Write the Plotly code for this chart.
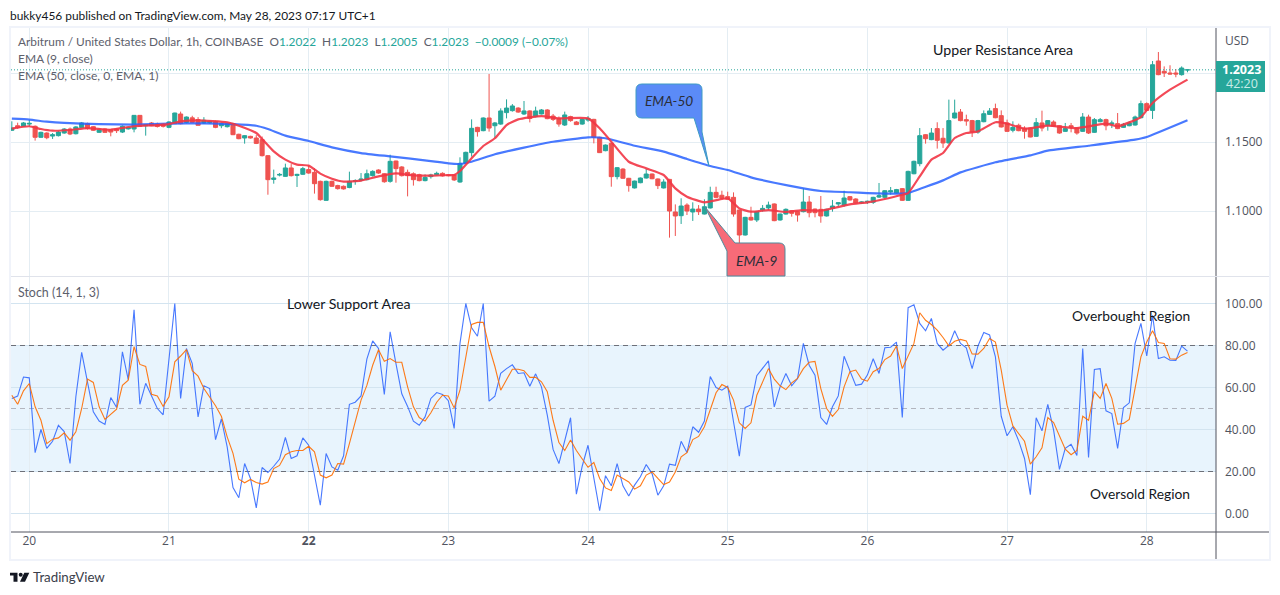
import pandas as pd
import plotly.graph_objects as go

FIRST_HOUR = -3
opens = [
 1.1585,1.1618,1.1614,
 1.1630,1.1614,1.1534,1.1565,1.1543,1.1546,1.1565,1.1594,1.1560,1.1604,1.1633,1.1611,1.1570,1.1594,1.1589,1.1594,1.1572,1.1595,1.1594,1.1693,1.1618,1.1638,1.1630,1.1625,
 1.1606,1.1633,1.1703,1.1642,1.1675,1.1662,1.1638,1.1640,1.1647,1.1618,1.1611,1.1633,1.1556,1.1529,1.1541,1.1529,1.1517,1.1401,1.1229,1.1260,1.1251,1.1312,1.1258,1.1266,
 1.1300,1.1280,1.1215,1.1077,1.1215,1.1184,1.1179,1.1170,1.1216,1.1222,1.1227,1.1256,1.1297,1.1270,1.1215,1.1362,1.1319,1.1280,1.1270,1.1263,1.1220,1.1249,1.1263,1.1273,
 1.1261,1.1261,1.1210,1.1345,1.1423,1.1606,1.1582,1.1674,1.1618,1.1630,1.1713,1.1727,1.1746,1.1703,1.1725,1.1684,1.1703,1.1732,1.1688,1.1669,1.1623,1.1684,1.1645,1.1630,
 1.1659,1.1664,1.1534,1.1437,1.1490,1.1249,1.1304,1.1237,1.1167,1.1205,1.1239,1.1268,1.1232,1.1167,1.1229,1.0993,1.0966,1.1043,1.0993,1.1014,1.0978,1.1022,1.1135,1.1114,
 1.1104,1.1099,1.1007,1.0826,1.0954,1.0935,1.1007,1.1022,1.1051,1.0935,1.0978,1.1002,1.0995,1.0995,1.1065,1.1014,1.1012,1.0964,1.1019,1.1051,1.1043,1.1104,1.1087,1.1058,
 1.1065,1.1063,1.1101,1.1099,1.1138,1.1130,1.1162,1.1077,1.1270,1.1343,1.1553,1.1517,1.1597,1.1527,1.1493,1.1674,1.1717,1.1662,1.1655,1.1572,1.1647,1.1700,1.1742,1.1691,
 1.1638,1.1585,1.1621,1.1599,1.1601,1.1541,1.1638,1.1621,1.1645,1.1618,1.1577,1.1618,1.1601,1.1577,1.1681,1.1570,1.1647,1.1662,1.1630,1.1633,1.1606,1.1618,1.1623,1.1676,
 1.1778,1.1729,1.2087,1.2012,1.2000,1.2000,1.1988,1.2022,
]
highs = [
 1.1650,1.1640,1.1645,
 1.1660,1.1620,1.1575,1.1570,1.1565,1.1580,1.1600,1.1605,1.1615,1.1645,1.1640,1.1615,1.1600,1.1598,1.1592,1.1598,1.1620,1.1610,1.1695,1.1695,1.1630,1.1645,1.1640,1.1635,
 1.1650,1.1712,1.1720,1.1685,1.1690,1.1680,1.1680,1.1655,1.1655,1.1640,1.1640,1.1640,1.1560,1.1550,1.1545,1.1550,1.1540,1.1405,1.1300,1.1275,1.1343,1.1340,1.1270,1.1320,
 1.1330,1.1310,1.1220,1.1220,1.1220,1.1190,1.1185,1.1285,1.1230,1.1275,1.1300,1.1295,1.1302,1.1275,1.1408,1.1365,1.1325,1.1300,1.1280,1.1270,1.1265,1.1270,1.1285,1.1280,
 1.1265,1.1268,1.1389,1.1430,1.1664,1.1610,1.1678,1.1993,1.1645,1.1744,1.1809,1.1775,1.1752,1.1797,1.1730,1.1756,1.1739,1.1738,1.1703,1.1685,1.1720,1.1690,1.1652,1.1671,
 1.1688,1.1668,1.1538,1.1482,1.1495,1.1318,1.1310,1.1240,1.1220,1.1243,1.1304,1.1272,1.1236,1.1230,1.1233,1.1048,1.1092,1.1056,1.1063,1.1043,1.1085,1.1176,1.1176,1.1147,
 1.1140,1.1135,1.1010,1.0958,1.1031,1.1000,1.1043,1.1068,1.1055,1.0982,1.1019,1.1006,1.1000,1.1164,1.1109,1.1018,1.1109,1.1016,1.1080,1.1063,1.1147,1.1108,1.1092,1.1070,
 1.1075,1.1103,1.1203,1.1152,1.1174,1.1160,1.1166,1.1292,1.1365,1.1601,1.1557,1.1601,1.1643,1.1601,1.1807,1.1807,1.1739,1.1698,1.1660,1.1660,1.1729,1.1746,1.1778,1.1729,
 1.1662,1.1650,1.1633,1.1614,1.1605,1.1674,1.1727,1.1659,1.1657,1.1622,1.1638,1.1638,1.1605,1.1710,1.1698,1.1674,1.1674,1.1669,1.1655,1.1710,1.1638,1.1650,1.1691,1.1800,
 1.1787,1.2087,1.2152,1.2048,1.2056,1.2029,1.2048,1.2023,
]
lows = [
 1.1580,1.1595,1.1610,
 1.1612,1.1510,1.1530,1.1520,1.1522,1.1540,1.1560,1.1550,1.1555,1.1600,1.1590,1.1580,1.1565,1.1565,1.1541,1.1565,1.1565,1.1590,1.1570,1.1610,1.1546,1.1615,1.1605,1.1605,
 1.1600,1.1630,1.1628,1.1635,1.1640,1.1620,1.1630,1.1632,1.1600,1.1600,1.1605,1.1550,1.1520,1.1488,1.1525,1.1485,1.1395,1.1118,1.1198,1.1251,1.1248,1.1250,1.1174,1.1262,
 1.1270,1.1126,1.1075,1.1075,1.1175,1.1155,1.1155,1.1165,1.1190,1.1215,1.1222,1.1250,1.1270,1.1205,1.1205,1.1205,1.1250,1.1106,1.1184,1.1215,1.1215,1.1235,1.1258,1.1250,
 1.1250,1.1218,1.1205,1.1340,1.1394,1.1539,1.1578,1.1575,1.1527,1.1625,1.1671,1.1720,1.1712,1.1696,1.1642,1.1679,1.1700,1.1665,1.1652,1.1611,1.1616,1.1647,1.1623,1.1625,
 1.1647,1.1490,1.1420,1.1433,1.1176,1.1229,1.1233,1.1140,1.1163,1.1201,1.1235,1.1230,1.1159,1.1163,1.0807,1.0819,1.0906,1.0971,1.0928,1.0971,1.0975,1.1018,1.1092,1.1088,
 1.1080,1.0959,1.0681,1.0822,1.0930,1.0920,1.0995,1.1007,1.0926,1.0930,1.0974,1.0959,1.0923,1.0990,1.0954,1.0954,1.0915,1.0960,1.0995,1.1031,1.1031,1.1075,1.1054,1.1053,
 1.1051,1.1051,1.1094,1.1095,1.1118,1.1126,1.1073,1.1073,1.1266,1.1324,1.1488,1.1513,1.1452,1.1457,1.1489,1.1670,1.1650,1.1618,1.1536,1.1560,1.1643,1.1696,1.1672,1.1605,
 1.1573,1.1570,1.1578,1.1524,1.1534,1.1537,1.1577,1.1582,1.1610,1.1560,1.1573,1.1570,1.1553,1.1573,1.1558,1.1566,1.1643,1.1585,1.1601,1.1593,1.1602,1.1614,1.1619,1.1672,
 1.1725,1.1667,1.1984,1.1971,1.1989,1.1969,1.1981,1.2005,
]
closes = [
 1.1601,1.1604,1.1638,
 1.1635,1.1534,1.1570,1.1531,1.1553,1.1572,1.1594,1.1558,1.1609,1.1638,1.1597,1.1585,1.1589,1.1570,1.1572,1.1582,1.1614,1.1605,1.1693,1.1614,1.1625,1.1618,1.1612,1.1614,
 1.1645,1.1710,1.1633,1.1681,1.1642,1.1621,1.1657,1.1650,1.1606,1.1633,1.1633,1.1553,1.1524,1.1546,1.1529,1.1490,1.1401,1.1227,1.1239,1.1265,1.1312,1.1256,1.1265,1.1307,
 1.1275,1.1198,1.1082,1.1215,1.1179,1.1162,1.1160,1.1215,1.1220,1.1232,1.1270,1.1287,1.1275,1.1212,1.1360,1.1307,1.1256,1.1256,1.1227,1.1220,1.1244,1.1261,1.1273,1.1254,
 1.1256,1.1225,1.1345,1.1425,1.1599,1.1575,1.1674,1.1601,1.1638,1.1725,1.1746,1.1761,1.1717,1.1725,1.1671,1.1725,1.1732,1.1669,1.1664,1.1630,1.1696,1.1655,1.1626,1.1664,
 1.1671,1.1534,1.1423,1.1478,1.1249,1.1314,1.1237,1.1184,1.1217,1.1239,1.1268,1.1234,1.1184,1.1210,1.1000,1.0964,1.1036,1.1000,1.1014,1.0995,1.1031,1.1135,1.1099,1.1092,
 1.1085,1.0978,1.0826,1.0954,1.0935,1.0995,1.1019,1.1043,1.0930,1.0978,1.1012,1.0983,1.0971,1.1065,1.0988,1.0988,1.0964,1.1012,1.1036,1.1060,1.1094,1.1080,1.1058,1.1065,
 1.1070,1.1099,1.1111,1.1147,1.1147,1.1155,1.1077,1.1287,1.1360,1.1546,1.1524,1.1565,1.1512,1.1493,1.1655,1.1710,1.1655,1.1652,1.1572,1.1655,1.1705,1.1725,1.1676,1.1609,
 1.1577,1.1606,1.1582,1.1577,1.1536,1.1640,1.1601,1.1655,1.1614,1.1565,1.1597,1.1609,1.1565,1.1681,1.1565,1.1662,1.1662,1.1618,1.1637,1.1597,1.1628,1.1638,1.1681,1.1778,
 1.1729,1.2060,1.1988,1.2000,1.1993,1.1993,1.2036,1.2023,
]

ema9_hours = [-3,0,2,4,7,10,14,18,22,24,26,29,34,36,39,40,42,44,46,48,50,52,54,57,60,63,66,69,72,73,74,76,78,80,82,84,88,91,96,98,100,103,106,109,111,113,116,119,120,122,124,127,130,133,136,141,144,147,150,151,153,155,157,159,161,163,166,168,171,175,180,185,187,191,193,196,199]
ema9_values = [1.1597,1.1614,1.1594,1.1582,1.1587,1.1601,1.1589,1.1614,1.1623,1.1630,1.1650,1.1657,1.1643,1.1618,1.1565,1.1522,1.1432,1.1372,1.1336,1.1329,1.1271,1.1234,1.1213,1.1220,1.1251,1.1273,1.1258,1.1256,1.1261,1.1261,1.1290,1.1382,1.1471,1.1527,1.1623,1.1664,1.1688,1.1671,1.1671,1.1599,1.1502,1.1357,1.1309,1.1261,1.1164,1.1104,1.1063,1.1087,1.1092,1.1019,1.0995,1.1007,1.0993,1.1007,1.1002,1.1048,1.1063,1.1087,1.1118,1.1130,1.1251,1.1372,1.1420,1.1529,1.1565,1.1577,1.1643,1.1633,1.1597,1.1618,1.1601,1.1633,1.1614,1.1681,1.1783,1.1879,1.1952]
ema50_hours = [-3,0,3,6,12,18,24,30,35,39,41,44,48,52,57,62,69,72,74,76,80,85,90,96,99,104,109,113,117,120,124,128,133,136,141,144,150,151,157,160,166,172,175,182,190,192,199]
ema50_values = [1.1669,1.1662,1.1647,1.1638,1.1630,1.1626,1.1633,1.1635,1.1630,1.1618,1.1594,1.1546,1.1507,1.1461,1.1420,1.1396,1.1362,1.1345,1.1341,1.1357,1.1411,1.1459,1.1502,1.1534,1.1527,1.1473,1.1430,1.1377,1.1326,1.1297,1.1244,1.1205,1.1164,1.1145,1.1136,1.1130,1.1126,1.1130,1.1222,1.1280,1.1353,1.1403,1.1437,1.1473,1.1517,1.1536,1.1657]

stoch_k = [
 54.8,55.9,65.0,
 64.6,29.0,40.0,31.0,34.4,42.0,39.0,23.8,55.6,76.7,62.7,48.4,44.0,42.4,55.2,50.5,77.0,63.8,97.0,52.0,62.0,56.0,50.0,47.0,
 75.0,100.0,54.8,78.6,71.4,46.0,60.8,59.5,35.2,45.0,31.7,12.4,7.5,23.8,16.7,2.7,21.9,19.5,22.5,25.9,36.2,26.2,27.5,36.0,
 32.5,18.0,4.0,28.6,22.2,20.6,27.5,52.0,53.0,56.0,73.5,82.2,78.6,56.7,86.5,71.4,57.0,51.0,44.0,42.0,46.0,54.8,57.6,56.7,
 53.7,40.5,81.0,100.0,88.4,84.4,100.0,53.5,55.9,66.7,69.0,70.8,66.7,67.0,60.6,66.5,60.3,46.8,30.5,23.8,35.0,45.6,9.2,22.5,
 32.5,17.5,1.3,18.0,13.2,23.8,13.2,8.3,13.5,17.5,23.3,19.0,8.7,13.2,23.5,22.9,34.4,29.0,41.3,38.7,44.0,65.2,60.0,58.7,
 60.6,43.7,27.3,50.5,51.7,65.6,69.0,72.7,50.8,60.3,66.7,60.8,64.3,81.0,70.6,65.9,45.7,42.4,50.8,56.0,74.9,68.3,61.0,61.6,
 65.9,73.7,66.7,78.9,79.2,81.6,45.7,98.0,99.4,90.5,87.0,92.9,81.0,77.8,80.0,87.0,81.0,78.9,69.0,79.8,86.2,85.0,74.6,46.3,
 37.0,41.3,34.6,26.2,9.0,45.6,39.4,52.0,39.7,21.0,31.0,32.9,27.6,78.6,26.7,68.6,69.0,48.9,47.6,31.0,50.5,52.7,81.0,90.5,
 75.0,94.4,73.8,74.6,73.0,72.9,79.7,77.3,
]
stoch_d = [
 56.3,52.0,58.4,
 61.9,50.8,44.4,33.3,35.4,36.0,38.4,34.9,38.9,50.0,64.0,62.4,50.8,44.8,47.3,49.7,61.0,63.5,79.4,71.0,70.0,56.8,56.0,51.0,
 55.6,72.2,75.0,78.0,68.0,65.4,59.5,55.2,51.3,46.3,36.5,28.6,16.3,14.6,16.2,14.8,14.0,15.0,21.4,22.9,28.0,29.4,30.0,30.0,
 32.0,29.4,18.3,17.0,18.3,23.8,23.5,33.3,43.7,54.0,61.0,70.6,78.0,72.5,73.8,72.0,72.0,60.3,50.8,45.7,44.0,48.0,53.0,56.3,
 56.0,50.3,58.7,75.0,90.0,91.0,91.0,79.4,70.0,58.7,63.8,68.7,68.7,68.0,64.8,64.8,62.7,58.0,44.4,33.8,30.0,35.0,30.0,26.2,
 22.0,24.3,16.7,12.2,11.0,18.3,16.7,15.0,11.6,13.2,18.3,19.8,16.7,13.8,15.0,19.8,27.0,29.0,35.2,36.7,41.3,49.2,57.5,61.4,
 60.0,54.0,43.2,40.5,43.2,56.3,62.4,69.0,64.0,60.8,59.0,62.2,64.3,69.0,72.0,72.4,59.5,50.0,46.3,49.5,60.3,67.5,68.3,64.0,
 63.0,67.5,69.0,73.3,75.0,79.8,69.0,75.0,81.0,95.6,92.0,90.0,87.3,83.8,79.8,82.0,82.9,82.2,76.0,75.9,78.6,83.3,81.6,68.3,
 51.6,41.7,38.0,34.4,23.5,27.0,31.3,45.7,43.3,37.3,30.6,28.0,30.0,46.3,44.4,58.0,54.8,61.9,54.8,42.5,42.9,44.8,59.5,74.6,
 81.7,87.0,81.4,81.0,73.7,73.5,75.4,76.7,
]
day_numbers = ["20","21","<b>22</b>","23","24","25","26","27","28"]
price_ticks = [1.10, 1.15, 1.20]
price_tick_labels = ["1.1000", "1.1500", ""]
stoch_ticks = [0, 20, 40, 60, 80, 100]

W, H = 1280, 595
PLOT_L, PLOT_R, MAIN_T, MAIN_B, SUB_T, SUB_B = 11, 1216, 28, 276, 277, 532
FONT = "Lato"
AXIS_FONT = "Open Sans"
TEAL, RED, GRID = "#26a69a", "#ef5350", "#e4edf3"
TXT, MUTED = "#131722", "#5d606b"

def px(x): return x / W
def py(y): return 1 - y / H

base = pd.Timestamp("2023-05-20")
def at(h): return (base + pd.Timedelta(hours=h)).floor("s")
times = [at(FIRST_HOUR + i) for i in range(len(closes))]
for s in (opens, highs, lows, stoch_k, stoch_d):
    assert len(s) == len(closes), len(s)

fig = go.Figure()
fig.add_trace(go.Candlestick(x=times, open=opens, high=highs, low=lows, close=closes, whiskerwidth=0,
    increasing=dict(line=dict(color=TEAL, width=1), fillcolor=TEAL),
    decreasing=dict(line=dict(color=RED, width=1), fillcolor=RED), xaxis="x", yaxis="y", showlegend=False))
fig.add_trace(go.Scatter(x=[at(h) for h in ema50_hours], y=ema50_values, mode="lines",
    line=dict(color="#2962ff", width=2.2, shape="spline", smoothing=0.4), opacity=0.85, xaxis="x", yaxis="y", showlegend=False))
fig.add_trace(go.Scatter(x=[at(h) for h in ema9_hours], y=ema9_values, mode="lines",
    line=dict(color="#f23645", width=2.2, shape="spline", smoothing=0.5), opacity=0.9, xaxis="x", yaxis="y", showlegend=False))
fig.add_trace(go.Scatter(x=times, y=stoch_k, mode="lines", line=dict(color="#2962ff", width=1.1), opacity=0.85, xaxis="x2", yaxis="y2", showlegend=False))
fig.add_trace(go.Scatter(x=times, y=stoch_d, mode="lines", line=dict(color="#ff6d00", width=1.1), opacity=0.9, xaxis="x2", yaxis="y2", showlegend=False))

x_range = [at((PLOT_L - 29.3) / 5.82), at((PLOT_R - 29.3) / 5.82)]
day_vals = [at(24 * i) for i in range(len(day_numbers))]
common_x = dict(range=x_range, type="date", tickvals=day_vals, ticktext=day_numbers, showgrid=True, gridcolor=GRID, gridwidth=1,
                zeroline=False, showline=False, ticks="", rangeslider=dict(visible=False),
                domain=[px(PLOT_L), px(PLOT_R)], tickfont=dict(family=AXIS_FONT, size=12, color="#50535e"))
main_lo, main_hi = 1.15 - (MAIN_B - 142) / 1380, 1.15 + (142 - MAIN_T) / 1380
sub_lo, sub_hi = (513.5 - SUB_B) / 2.1, (513.5 - SUB_T) / 2.1

shapes = []
# stochastic band and levels
shapes.append(dict(type="rect", xref="x2", yref="y2", x0=x_range[0], x1=x_range[1], y0=20, y1=80, fillcolor="#e8f4fd", line=dict(width=0), layer="below"))
for lv, col in ((80, "#6d7079"), (20, "#6d7079"), (50, "#b2b5be")):
    shapes.append(dict(type="line", xref="x2", yref="y2", x0=x_range[0], x1=x_range[1], y0=lv, y1=lv, line=dict(color=col, width=1, dash="5px,4px"), layer="between"))
# last price line
shapes.append(dict(type="line", xref="x", yref="y", x0=x_range[0], x1=x_range[1], y0=closes[-1], y1=closes[-1], line=dict(color=TEAL, width=1, dash="1px,2px")))
# frame and separators
frame = "#f0f3fa"
shapes.append(dict(type="rect", xref="paper", yref="paper", x0=px(10), x1=px(1270), y0=py(560), y1=py(27), line=dict(color=frame, width=2)))
for (x0, y0, x1, y1, c) in ((1216, 28, 1216, 559, "#50535e"), (11, 532, 1269, 532, "#50535e"), (11, 276.5, 1269, 276.5, "#e0e3eb")):
    shapes.append(dict(type="line", xref="paper", yref="paper", x0=px(x0), x1=px(x1), y0=py(y0), y1=py(y1), line=dict(color=c, width=1)))
# price tag
shapes.append(dict(type="rect", xref="paper", yref="paper", x0=px(1216), x1=px(1265), y0=py(92), y1=py(61), fillcolor=TEAL, line=dict(width=0)))

def pth(pts):
    out = []
    for p in pts:
        if len(p) == 3:
            out.append(f"{p[0]} {px(p[1]):.5f} {py(p[2]):.5f}")
        else:
            out.append(f"Q {px(p[1]):.5f} {py(p[2]):.5f} {px(p[3]):.5f} {py(p[4]):.5f}")
    return " ".join(out) + " Z"

# EMA-50 callout
shapes.append(dict(type="path", xref="paper", yref="paper", fillcolor="#5b8bf7", line=dict(color="#3e9cc4", width=1),
    path=pth([("M",642,84),("L",696,84),("Q",702,84,702,90),("L",702,132),("L",709,166),("L",694,118),("L",642,118),("Q",636,118,636,112),("L",636,90),("Q",636,84,642,84)])))
# EMA-9 callout
shapes.append(dict(type="path", xref="paper", yref="paper", fillcolor="#f76b78", line=dict(color="#4f8a9c", width=1),
    path=pth([("M",705,207),("L",735,243),("L",779,243),("Q",785,243,785,249),("L",785,276),("L",727,276),("L",727,251),("L",705,207)])))
# TradingView logo
shapes.append(dict(type="path", xref="paper", yref="paper", fillcolor=TXT, line=dict(width=0),
    path=pth([("M",10,572.7),("L",17.5,572.7),("L",17.5,581.7),("L",13.5,581.7),("L",13.5,575.6),("L",10,575.6)])))
shapes.append(dict(type="circle", xref="paper", yref="paper", x0=px(18.7), x1=px(22.7), y0=py(576.7), y1=py(572.7), fillcolor=TXT, line=dict(width=0)))
shapes.append(dict(type="path", xref="paper", yref="paper", fillcolor=TXT, line=dict(width=0),
    path=pth([("M",24.3,572.7),("L",29.3,572.7),("L",25,581.7),("L",20,581.7)])))

def label(x, y, text, size=12, color=MUTED, anchor="left", family=FONT, **kw):
    if anchor == "left":
        x -= 2
    return dict(xref="paper", yref="paper", x=px(x), y=py(y), text=text, showarrow=False, xanchor=anchor, yanchor="middle",
                font=dict(family=family, size=size, color=color), **kw)

tv = lambda s: f'<span style="color:{TEAL}">{s}</span>'
ann = [
    label(10, 15, "bukky456 published on TradingView.com, May 28, 2023 07:17 UTC+1", 11.9, TXT),
    label(18, 42, f"Arbitrum / United States Dollar, 1h, COINBASE  O{tv('1.2022')}  H{tv('1.2023')}  L{tv('1.2005')}  C{tv('1.2023')}  {tv('−0.0009 (−0.07%)')}", 11.85),
    label(18, 59, "EMA (9, close)", 12),
    label(18, 75.5, "EMA (50, close, 0, EMA, 1)", 12.1),
    label(18, 292, "Stoch (14, 1, 3)", 12.4),
    label(1003, 49, "Upper Resistance Area", 14.2, TXT, "center"),
    label(348.5, 303.5, "Lower Support Area", 14.2, TXT, "center"),
    label(1131, 315, "Overbought Region", 13.8, TXT, "center"),
    label(1140, 493, "Oversold Region", 13.8, TXT, "center"),
    label(669, 100, "<i>EMA-50</i>", 13.7, "#2a2e39", "center"),
    label(756.5, 260, "<i>EMA-9</i>", 14, "#2a2e39", "center"),
    label(33, 577, "TradingView", 13.3, "#3a3e4a"),
    label(1237, 40.5, "USD", 12, "#50535e", "center", AXIS_FONT),
    label(1241.5, 69.5, "<b>1.2023</b>", 12.5, "#ffffff", "center", AXIS_FONT),
    label(1241.5, 84, "42:20", 12.5, "#c9ece8", "center", AXIS_FONT),
]

fig.update_layout(
    width=W, height=H, autosize=False, margin=dict(l=0, r=0, t=0, b=0), paper_bgcolor="#ffffff", plot_bgcolor="#ffffff",
    showlegend=False, boxgap=0.3, boxgroupgap=0, shapes=shapes, annotations=ann,
    xaxis={**common_x, "anchor": "y", "showticklabels": False},
    xaxis2={**common_x, "anchor": "y2", "matches": "x"},
    yaxis=dict(domain=[py(MAIN_B), py(MAIN_T)], range=[main_lo, main_hi], side="right", anchor="x", tickvals=price_ticks, ticktext=price_tick_labels,
               gridcolor=GRID, zeroline=False, ticks="", ticklabelstandoff=8, tickfont=dict(family=AXIS_FONT, size=12, color="#50535e")),
    yaxis2=dict(domain=[py(SUB_B), py(SUB_T)], range=[sub_lo, sub_hi], side="right", anchor="x2", tickvals=stoch_ticks, tickformat=".2f",
                gridcolor="#d3e4f0", zeroline=False, ticks="", ticklabelstandoff=8, tickfont=dict(family=AXIS_FONT, size=12, color="#50535e")),
)
fig.write_html("out.html", config={"displayModeBar": False}, post_script="document.body.style.margin='0';")
